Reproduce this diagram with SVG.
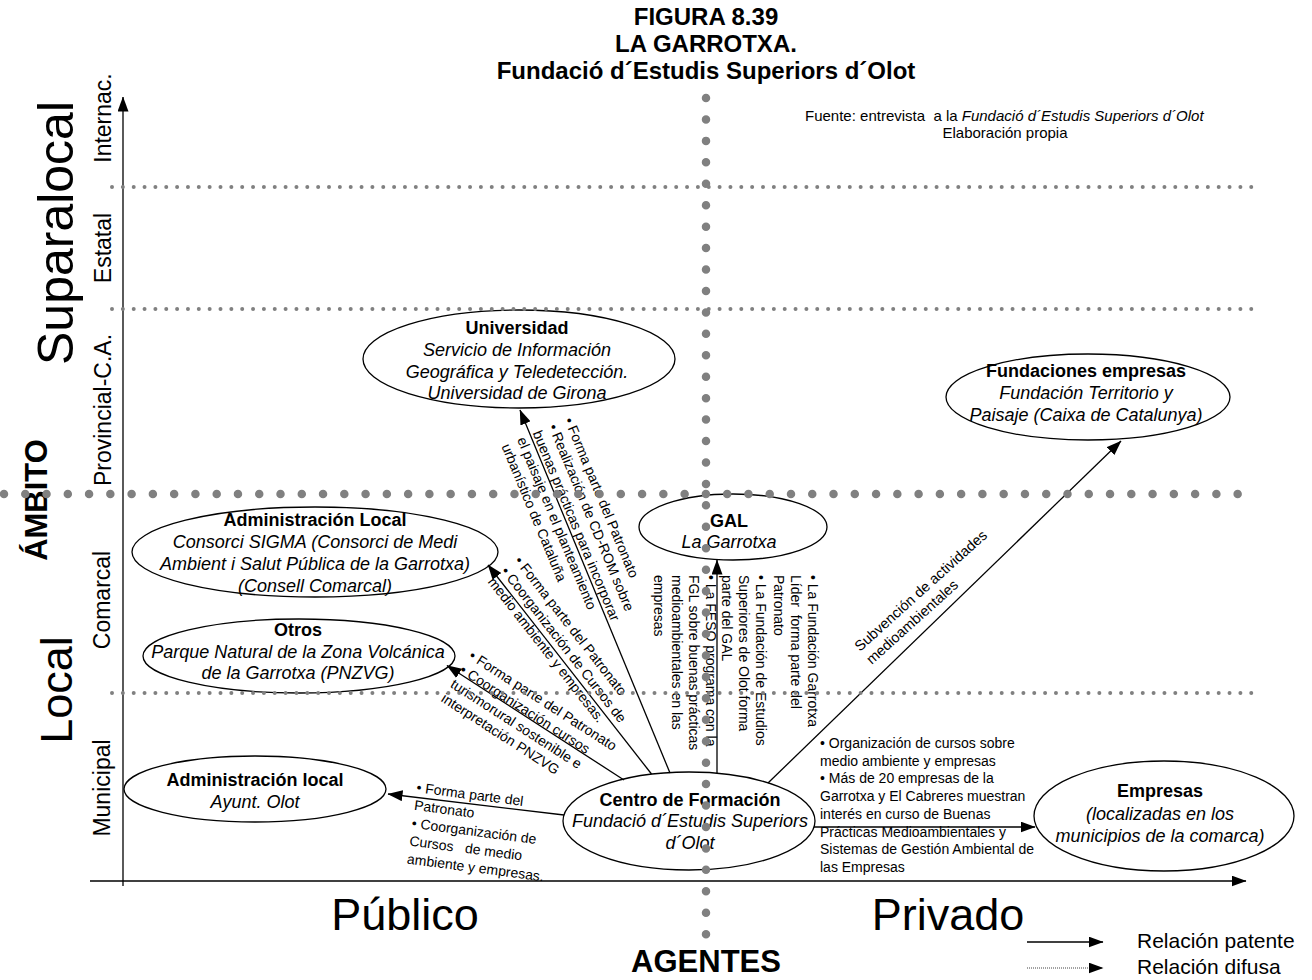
<svg xmlns="http://www.w3.org/2000/svg" width="1312" height="980" viewBox="0 0 1312 980">
<style>
text{font-family:"Liberation Sans",Arial,Helvetica,sans-serif;fill:#000}
.t{font-size:24px;font-weight:bold}
.src{font-size:15px}
.ax{font-size:23px}
.big{font-size:45px}
.bb{font-size:31px;font-weight:bold}
.nh{font-size:18px;font-weight:bold}
.ni{font-size:18px;font-style:italic}
.lb{font-size:14px}
.lg{font-size:21px}
.el{fill:none;stroke:#000;stroke-width:1.3}
.cn{stroke:#000;stroke-width:1.3;fill:none;marker-end:url(#ah)}
.bd{stroke:#808080;stroke-width:8.5;stroke-linecap:round;fill:none}
.sd{stroke:#808080;stroke-width:4;stroke-linecap:round;fill:none;stroke-dasharray:0 10.85}
</style>
<defs>
<marker id="ah" markerUnits="userSpaceOnUse" markerWidth="15" markerHeight="11" refX="14.5" refY="5.5" orient="auto">
<path d="M0,0 L15,5.5 L0,11 z" fill="#000"/>
</marker>
</defs>
<rect width="1312" height="980" fill="#fff"/>

<g id="title">
<text class="t" x="706" y="25" text-anchor="middle">FIGURA 8.39</text>
<text class="t" x="706" y="52" text-anchor="middle">LA GARROTXA.</text>
<text class="t" x="706" y="79" text-anchor="middle">Fundació d´Estudis Superiors d´Olot</text>
<text class="src" x="805" y="121" xml:space="preserve">Fuente: entrevista  a la <tspan font-style="italic">Fundació d´Estudis Superiors d´Olot</tspan></text>
<text class="src" x="1005" y="138" text-anchor="middle">Elaboración propia</text>
</g>

<g id="axes">
<line x1="123" y1="886" x2="123" y2="97" class="cn"/>
<line x1="90" y1="881" x2="1246" y2="881" class="cn"/>
<text class="ax" transform="translate(111,118) rotate(-90)" text-anchor="middle">Internac.</text>
<text class="ax" transform="translate(111,248) rotate(-90)" text-anchor="middle">Estatal</text>
<text class="ax" transform="translate(111,410) rotate(-90)" text-anchor="middle">Provincial-C.A.</text>
<text class="ax" transform="translate(110,600) rotate(-90)" text-anchor="middle">Comarcal</text>
<text class="ax" transform="translate(110,788) rotate(-90)" text-anchor="middle">Municipal</text>
<text class="big" style="font-size:50px" transform="translate(73,233) rotate(-90)" text-anchor="middle">Suparalocal</text>
<text class="big" transform="translate(72,690) rotate(-90)" text-anchor="middle">Local</text>
<text class="bb" transform="translate(47,500) rotate(-90)" text-anchor="middle">ÁMBITO</text>
<text class="big" x="405" y="930" text-anchor="middle">Público</text>
<text class="big" x="948" y="930" text-anchor="middle">Privado</text>
<text class="bb" x="706" y="972" text-anchor="middle">AGENTES</text>
</g>

<g id="connectors">
<line x1="670" y1="773" x2="520" y2="410" class="cn"/>
<line x1="651.5" y1="774" x2="488" y2="565" class="cn"/>
<line x1="624" y1="780" x2="447" y2="665.5" class="cn"/>
<line x1="564" y1="815" x2="388" y2="794" class="cn"/>
<line x1="717" y1="773" x2="717" y2="560" class="cn"/>
<line x1="768" y1="783" x2="1121" y2="441" class="cn"/>
<line x1="814" y1="827" x2="1035" y2="827" class="cn"/>
</g>

<g id="connector-labels">
<text class="lb" transform="translate(564,420) rotate(67.4)"><tspan x="0" y="0">• Forma parte del Patronato</tspan><tspan x="0" dy="17">• Realización de CD-ROM sobre</tspan><tspan x="0" dy="17">buenas prácticas para incorporar</tspan><tspan x="0" dy="17">el paisaje en el planteamiento</tspan><tspan x="0" dy="17">urbanístico de Cataluña</tspan></text>
<text class="lb" transform="translate(514,561) rotate(52)"><tspan x="0" y="0">• Forma parte del Patronato</tspan><tspan x="0" dy="17">• Coorganización de Cursos de</tspan><tspan x="0" dy="17">medio ambiente y empresas.</tspan></text>
<text class="lb" transform="translate(468,658) rotate(32.8)"><tspan x="0" y="0">• Forma parte del Patronato</tspan><tspan x="0" dy="17">• Coorganización cursos</tspan><tspan x="0" dy="17">turismorural sostenible e</tspan><tspan x="0" dy="17">interpretación PNZVG</tspan></text>
<text class="lb" transform="translate(416,792) rotate(7.5)" xml:space="preserve"><tspan x="0" y="0">• Forma parte del</tspan><tspan x="0" dy="18">Patronato</tspan><tspan x="0" dy="18">• Coorganización de</tspan><tspan x="0" dy="18">Cursos   de medio</tspan><tspan x="0" dy="18">ambiente y empresas.</tspan></text>
<text class="lb" transform="translate(808,575) rotate(90)" xml:space="preserve"><tspan x="0" y="0">• La Fundación Garrotxa</tspan><tspan x="0" dy="17.2">Líder  forma parte del</tspan><tspan x="0" dy="17.2">Patronato</tspan><tspan x="0" dy="17.2">• La Fundación de Estudios</tspan><tspan x="0" dy="17.2">Superiores de Olot forma</tspan><tspan x="0" dy="17.2">parte del GAL</tspan></text>
<text class="lb" transform="translate(706,575) rotate(90)"><tspan x="0" y="0">• La FESO programa con la</tspan><tspan x="0" dy="17.2">FGL sobre buenas prácticas</tspan><tspan x="0" dy="17.2">medioambientales en las</tspan><tspan x="0" dy="17.2">empresas</tspan></text>
<text class="lb" style="font-size:14.5px" transform="translate(860,652) rotate(-42)"><tspan x="0" y="0">Subvención de actividades</tspan><tspan x="0" dy="17.5">medioambientales</tspan></text>
<text class="lb"><tspan x="820" y="748">• Organización de cursos sobre</tspan><tspan x="820" y="765.7">medio ambiente y empresas</tspan><tspan x="820" y="783.4">• Más de 20 empresas de la</tspan><tspan x="820" y="801.1">Garrotxa y El Cabreres muestran</tspan><tspan x="820" y="818.8">interés en curso de Buenas</tspan><tspan x="820" y="836.5">Prácticas Medioambientales y</tspan><tspan x="820" y="854.2">Sistemas de Gestión Ambiental de</tspan><tspan x="820" y="871.9">las Empresas</tspan></text>
</g>

<g id="node-universidad">
<ellipse class="el" cx="519" cy="359" rx="156" ry="49"/>
<text class="nh" x="517" y="334" text-anchor="middle">Universidad</text>
<text class="ni" x="517" y="356" text-anchor="middle">Servicio de Información</text>
<text class="ni" x="517" y="378" text-anchor="middle">Geográfica y Teledetección.</text>
<text class="ni" x="517" y="399" text-anchor="middle">Universidad de Girona</text>
</g>

<g id="node-fundaciones">
<ellipse class="el" cx="1088" cy="397" rx="142" ry="43"/>
<text class="nh" x="1086" y="377" text-anchor="middle">Fundaciones empresas</text>
<text class="ni" x="1086" y="399" text-anchor="middle">Fundación Territorio y</text>
<text class="ni" x="1086" y="421" text-anchor="middle">Paisaje (Caixa de Catalunya)</text>
</g>

<g id="node-gal">
<ellipse class="el" cx="733" cy="527" rx="94" ry="33"/>
<text class="nh" x="729" y="527" text-anchor="middle">GAL</text>
<text class="ni" x="729" y="548" text-anchor="middle">La Garrotxa</text>
</g>

<g id="node-sigma">
<ellipse class="el" cx="315" cy="552" rx="183" ry="45"/>
<text class="nh" x="315" y="526" text-anchor="middle">Administración Local</text>
<text class="ni" x="315" y="548" text-anchor="middle">Consorci SIGMA (Consorci de Medi</text>
<text class="ni" x="315" y="570" text-anchor="middle">Ambient i Salut Pública de la Garrotxa)</text>
<text class="ni" x="315" y="592" text-anchor="middle">(Consell Comarcal)</text>
</g>

<g id="node-otros">
<ellipse class="el" cx="299" cy="656" rx="156" ry="37"/>
<text class="nh" x="298" y="636" text-anchor="middle">Otros</text>
<text class="ni" x="298" y="658" text-anchor="middle">Parque Natural de la Zona Volcánica</text>
<text class="ni" x="298" y="679" text-anchor="middle">de la Garrotxa (PNZVG)</text>
</g>

<g id="node-ayuntamiento">
<ellipse class="el" cx="255" cy="789" rx="131" ry="33"/>
<text class="nh" x="255" y="786" text-anchor="middle">Administración local</text>
<text class="ni" x="255" y="808" text-anchor="middle">Ayunt. Olot</text>
</g>

<g id="node-centro">
<ellipse class="el" cx="689" cy="821" rx="126" ry="49"/>
<text class="nh" x="690" y="806" text-anchor="middle">Centro de Formación</text>
<text class="ni" x="690" y="827" text-anchor="middle">Fundació d´Estudis Superiors</text>
<text class="ni" x="690" y="849" text-anchor="middle">d´Olot</text>
</g>

<g id="node-empresas">
<ellipse class="el" cx="1164" cy="816" rx="130" ry="55"/>
<text class="nh" x="1160" y="797" text-anchor="middle">Empresas</text>
<text class="ni" x="1160" y="820" text-anchor="middle">(localizadas en los</text>
<text class="ni" x="1160" y="842" text-anchor="middle">municipios de la comarca)</text>
</g>

<g id="grid">
<path class="sd" d="M112,187 H1252 M112,309 H1252 M112,693 H1252"/>
<path class="bd" d="M4,494 H1256" stroke-dasharray="0 21.27"/>
<path class="bd" d="M706,98 V935" stroke-dasharray="0 21.44"/>
</g>

<g id="legend">
<line x1="1027" y1="942" x2="1103" y2="942" class="cn"/>
<line x1="1027" y1="968" x2="1103" y2="968" stroke="#444" stroke-width="1" stroke-dasharray="1 1" marker-end="url(#ah)"/>
<text class="lg" x="1137" y="948">Relación patente</text>
<text class="lg" x="1137" y="974">Relación difusa</text>
</g>
</svg>
